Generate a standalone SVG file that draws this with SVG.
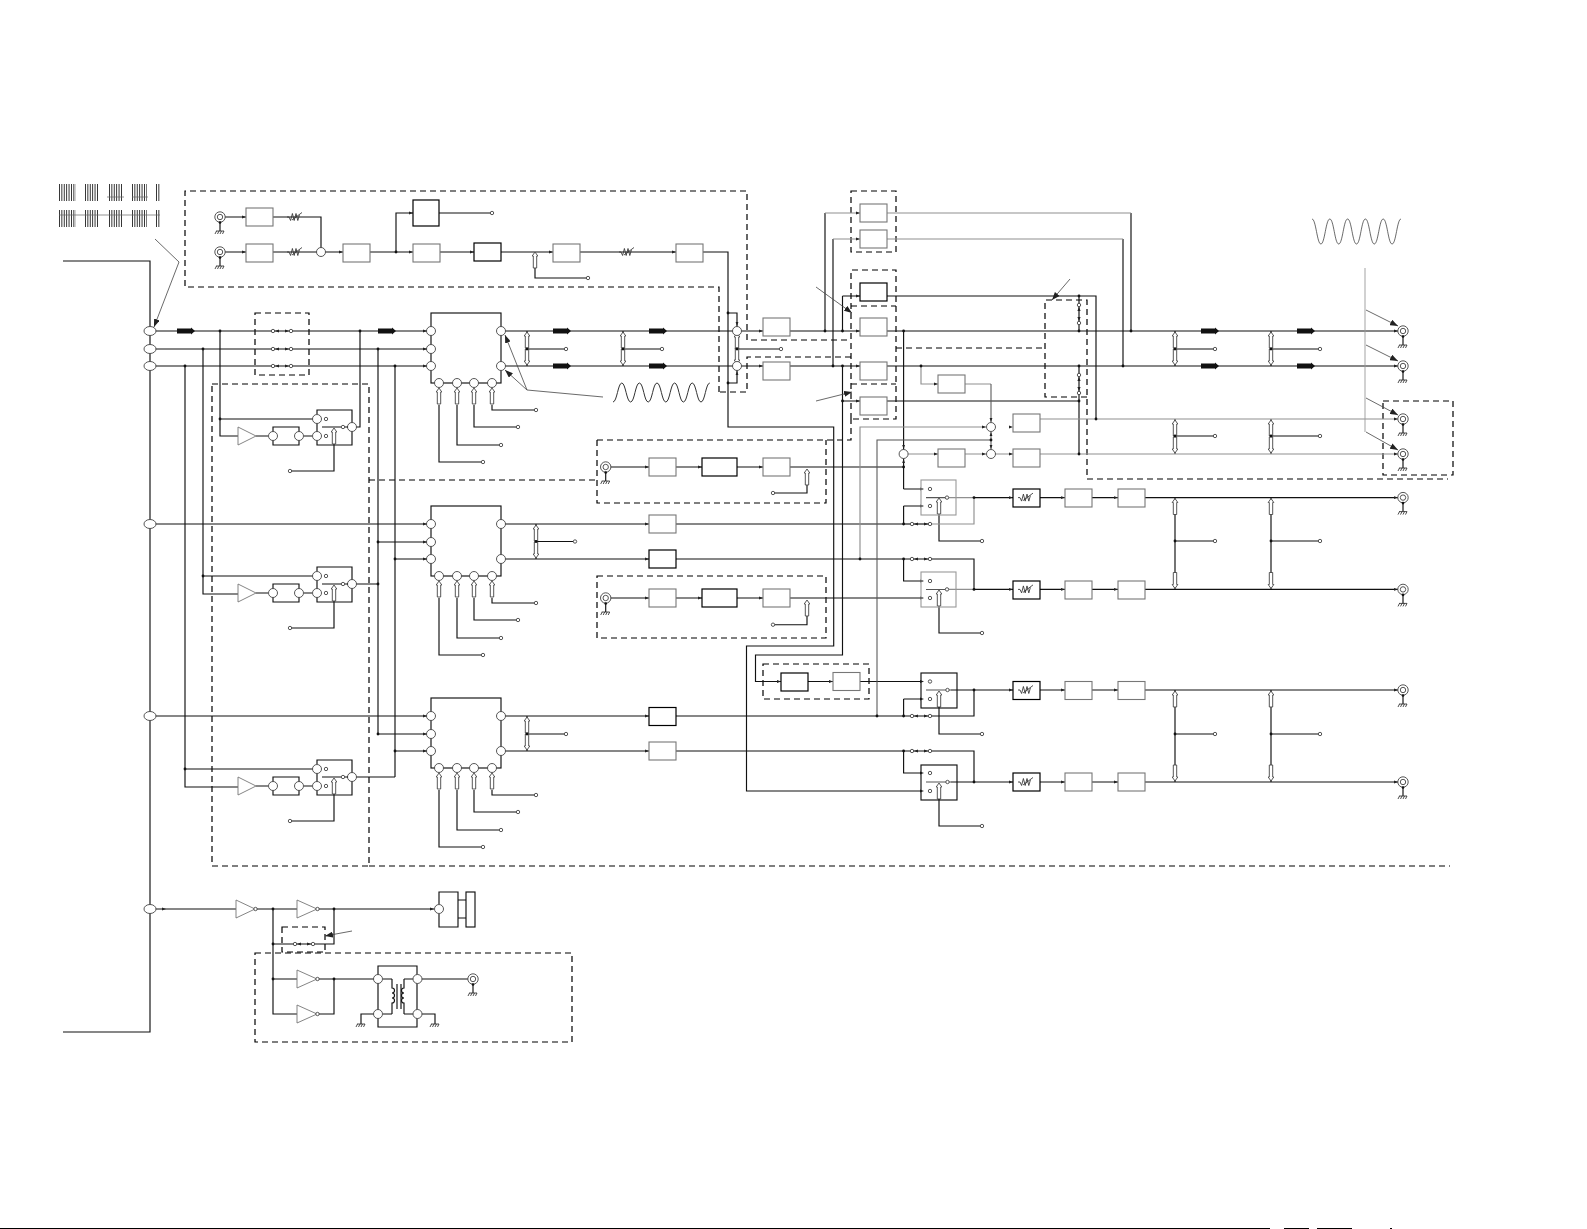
<svg xmlns="http://www.w3.org/2000/svg" width="1587" height="1229" viewBox="0 0 1587 1229">
<style>
.k{fill:none;stroke:#111;stroke-width:1.15}
.g{fill:none;stroke:#909090;stroke-width:1.15}
.m{fill:none;stroke:#555;stroke-width:1.05}
.d{fill:none;stroke:#000;stroke-width:1.2;stroke-dasharray:6 4}
.n{fill:none;stroke:#444;stroke-width:.8}
.gb{fill:#fff;stroke:#777;stroke-width:1.1}
.bb{fill:#fff;stroke:#000;stroke-width:1.2}
.c{fill:#fff;stroke:#444;stroke-width:.9}
.t{fill:#fff;stroke:#444;stroke-width:.9}
.tri{fill:#fff;stroke:#777;stroke-width:.9}
.tick{fill:none;stroke:#222;stroke-width:17;stroke-dasharray:.9 1.5}
</style>
<defs>
<marker id="mh" viewBox="0 0 8 6" refX="8" refY="3" markerWidth="8" markerHeight="6" markerUnits="userSpaceOnUse" orient="auto"><path d="M0,0 L8,3 L0,6 Z" fill="#222"/></marker>
<circle id="c" r="4.5" class="c"/>
<circle id="s" r="1.7" class="c"/>
<circle id="j" r="1.4" fill="#111"/>
<path id="a" d="M-4,-1.4 L0,0 L-4,1.4 Z" fill="#222"/>
<path id="A" d="M0,-2.5 H14 V-3.5 L18,0 L14,3.5 V2.5 H0 Z" fill="#111"/>
<path id="u" d="M0,0 L2.8,4 H1.7 V16 H-1.7 V4 H-2.8 Z" class="t"/>
<path id="v" d="M0,0 L2.8,-4 H1.7 V-16 H-1.7 V-4 H-2.8 Z" class="t"/>
<rect id="gx" width="27" height="18" class="gb"/>
<rect id="bx" width="27" height="18" class="bb"/>
<ellipse id="o" rx="6" ry="4.5" class="c"/>
<g id="gnd"><path d="M-4,0 H4 M-3.5,0 L-5,3 M-1,0 L-2.5,3 M1.5,0 L0,3 M4,0 L2.5,3" fill="none" stroke="#222" stroke-width=".8"/></g>
<g id="coax"><path d="M0,0 V14" class="k"/><circle r="5.2" class="c"/><circle r="2.7" class="c"/><circle cy="5.5" r="1.3" fill="#111"/><use href="#gnd" y="14"/></g>
<path id="res" d="M-8,0 H-6 L-4.4,3.5 L-2.6,-3.5 L-.8,3.5 L1,-3.5 L2.8,3.5 L4.4,-2 M-3,3 L7,-4.5" fill="none" stroke="#333" stroke-width=".85"/>
<g id="blk">
<rect x="431" y="313" width="70" height="70" class="k"/>
<use href="#c" x="431" y="331"/><use href="#c" x="431" y="349"/><use href="#c" x="431" y="366"/>
<use href="#c" x="501" y="331"/><use href="#c" x="501" y="366"/>
<path d="M439,405 V462 H483 M457,405 V445 H501 M474,405 V427 H518 M492,405 V410 H536" class="k"/>
<use href="#c" x="439" y="383"/><use href="#c" x="457" y="383"/><use href="#c" x="474" y="383"/><use href="#c" x="492" y="383"/>
<use href="#u" x="439" y="388"/><use href="#u" x="457" y="388"/><use href="#u" x="474" y="388"/><use href="#u" x="492" y="388"/>
<use href="#s" x="483" y="462"/><use href="#s" x="501" y="445"/><use href="#s" x="518" y="427"/><use href="#s" x="536" y="410"/>
<use href="#a" x="427" y="331"/><use href="#a" x="427" y="349"/><use href="#a" x="427" y="366"/>
</g>
<g id="sw">
<polygon points="238,427 256,436 238,445" class="tri"/>
<path d="M256,436 H268 M304,436 H312 M273,432 V427 H299 V432 M273,440 V445 H299 V440 M317,414 V410 H352 V423 M317,423 V432 M317,440 V445 H352 V431" class="k"/>
<use href="#c" x="273" y="436"/><use href="#c" x="299" y="436"/><use href="#c" x="317" y="419"/><use href="#c" x="317" y="436"/><use href="#c" x="352" y="427"/>
<use href="#s" x="326" y="419"/><use href="#s" x="326" y="436"/><use href="#s" x="343" y="427"/>
<path d="M322,427 H334 M334,444 V471 H290" class="k"/>
<path d="M334,427 H341 M345,427 H348" class="k"/>
<use href="#u" x="334" y="428"/><use href="#s" x="290" y="471"/>
</g>
<g id="dsw"><use href="#s" x="0"/><use href="#s" x="18"/><path d="M2,0 L6,-1.6 V1.6 Z M16,0 L12,-1.6 V1.6 Z" fill="#222"/></g>
</defs>

<g id="marks">
<path d="M59,192.5 H76 M85,192.5 H99 M109,192.5 H123 M132,192.5 H147 M156,192.5 H160 M59,218.5 H76 M85,218.5 H99 M109,218.5 H123 M132,218.5 H147 M156,218.5 H160" class="tick"/>
<path d="M107,197 H124 M132,197 H148 M59,215 H160" fill="none" stroke="#666" stroke-width=".7"/>
</g>

<g id="dashes">
<path d="M719,392 V287 H185 V191 H747 V340 H851" class="d"/>
<path d="M851,357 H747 V392 H719" class="d"/>
<rect x="851" y="191" width="45" height="61" class="d"/>
<path d="M851,419 V270 H896 V419 H851 M851,306 H896 M851,384 H896" class="d"/>
<path d="M597,440 H851 V419" class="d"/>
<path d="M597,440 V503 H826 V440" class="d"/>
<rect x="597" y="576" width="229" height="62" class="d"/>
<rect x="763" y="664" width="106" height="35" class="d"/>
<rect x="255" y="313" width="54" height="62" class="d"/>
<path d="M369,480 H597" class="d"/>
<rect x="212" y="384" width="157" height="482" class="d"/>
<path d="M369,866 H1450" class="d"/>
<path d="M896,348 H1045" class="d"/>
<path d="M1087,397 H1045 V300 H1087 V479 H1448" class="d"/>
<rect x="1383" y="401" width="70" height="74" class="d"/>
<rect x="282" y="927" width="43" height="25" class="d"/>
<rect x="255" y="953" width="317" height="89" class="d"/>
</g>

<g id="connectors">
<path class="k" d="M63,261 H150 V1032 H63 M150,331 H431 M150,349 H431 M150,366 H431 M150,524 H431 M150,716 H431 M150,909 H236
M220,331 V436 H238 M220,419 H317 M203,349 V594 H238 M203,576 H317 M185,366 V787 H238 M185,769 H317
M352,427 H360 V331 M352,584 H378 M378,349 V734 H431 M378,542 H431 M352,777 H395 M395,366 V777 M395,559 H431 M395,751 H431
M501,331 H1403 M501,366 H1403 M501,524 H903 M501,559 H974 V589.4 M501,716 H974 V690 M501,751 H974 V782
M527,331 V366 M527,349 H566 M623,331 V366 M623,349 H662 M737,331 V366 M737,349 H781
M536,524 V559 M536,541.5 H575 M527,716 V751 M527,734 H566
M225,217 H246 M273,217 H321 V252 M225,252 H343 M369,252 H413 M396,252 V213 H413 M439,213 H492 M439,252 H474 M501,252 H553 M579,252 H676
M535,267 V278 H588 M702,252 H728 V427 H833.7 V646 H746.5 V791 H921 M728,313 H737 V331 M728,383 H737 V366
M842.5,296 V331 M842.5,366 V655 H755.5 V681.5 H781 M808,681.5 H833 M860,681.5 H921
M842.5,401 H1079 M842.5,296 H860 M887,296 H1096 V419 M1079,296 V331 M1079,366 V454
M825,331 V213 M833,366 V239 M1131,213 V331 M1123,239 V366
M903.6,331 V489 M610,467 H649 M676,467 H702 M737,467 H763 M790,467 H903.6 M807,484 V493 H773
M610,598 H649 M676,598 H702 M737,598 H763 M790,598 H921 M807,615 V624.7 H773
M903.6,489 H921 M903.6,506 H921 M903.6,506 V524 M903.6,559 V581 H921 M903.6,699 H921 M903.6,699 V716 M903.6,751 V773 H921
M939,510 V541 H982 M939,602 V633 H982 M939,703 V734 H982 M939,795 V826 H982
M974,497.6 H1013 M974,589.4 H1013 M951,690 H1013 M951,782 H1013
M1040,497.6 H1065 M1092,497.6 H1118 M1145,497.6 H1403 M1040,589.4 H1065 M1092,589.4 H1118 M1145,589.4 H1403
M1040,690 H1065 M1092,690 H1118 M1145,690 H1403 M1040,782 H1065 M1092,782 H1118 M1145,782 H1403
M1175,331 V366 M1175,349 H1215 M1271,331 V366 M1271,349 H1320 M1175,419 V454 M1175,436 H1215 M1271,419 V454 M1271,436 H1320
M1175,497.6 V589.4 M1175,541 H1215 M1271,497.6 V589.4 M1271,541 H1320 M1175,690 V782 M1175,734 H1215 M1271,690 V782 M1271,734 H1320
M255,909 H297 M317,909 H434 M273,909 V1014 H297 M273,944 H334 V909 M273,979 H297 M317,979 H374 M317,1014 H334 V979"/>
<path class="g" d="M825,213 H860 M833,239 H860 M886,213 H1131 M886,239 H1123 M903.6,454 H938 M965,454 H1013 M1040,454 H1403 M1040,419 H1403
M921,366 V384 H938 M965,384 H991 M860,559 V427 H986 M930,524 H974 V497.6 M947,497.6 H974 M947,589.4 H974"/>
<path fill="none" stroke="#999" stroke-width=".9" d="M1365,268 V432"/>
<path class="m" d="M991,384 V422 M991,432 V449 M877,716 V440 H991 M926,497.6 H947 M926,589.4 H947 M926,690 H951 M926,782 H951"/>
<path class="k" d="M903.6,524 H930"/>
<g class="n">
<path d="M155,239 L179,262 L154,327" marker-end="url(#mh)"/>
<path d="M603,397 L527,390 L505,335" marker-end="url(#mh)"/>
<path d="M527,390 L505,370" marker-end="url(#mh)"/>
<path d="M816,287 L852,313" marker-end="url(#mh)"/>
<path d="M816,401 L852,392" marker-end="url(#mh)"/>
<path d="M1070,279 L1052,300" marker-end="url(#mh)"/>
<path d="M1366,310 L1398,326" marker-end="url(#mh)"/>
<path d="M1366,345 L1398,361" marker-end="url(#mh)"/>
<path d="M1366,398 L1398,415" marker-end="url(#mh)"/>
<path d="M1366,432 L1398,450" marker-end="url(#mh)"/>
<path d="M352,931 L325,936" marker-end="url(#mh)"/>
</g>
<g id="inline-heads">
<use href="#a" x="156" y="331"/><use href="#a" x="156" y="349"/><use href="#a" x="156" y="366"/><use href="#a" x="156" y="524"/><use href="#a" x="156" y="716"/><use href="#a" x="166" y="909"/>
<use href="#A" x="177" y="331"/><use href="#A" x="378" y="331"/>
<use href="#A" x="553" y="331"/><use href="#A" x="649" y="331"/><use href="#A" x="553" y="366"/><use href="#A" x="649" y="366"/>
<use href="#A" x="1201" y="331"/><use href="#A" x="1297" y="331"/><use href="#A" x="1201" y="366"/><use href="#A" x="1297" y="366"/>
<use href="#a" x="763" y="331"/><use href="#a" x="763" y="366"/><use href="#a" x="860" y="331"/><use href="#a" x="860" y="366"/><use href="#a" x="860" y="401"/><use href="#a" x="860" y="213"/><use href="#a" x="860" y="239"/><use href="#a" x="860" y="296"/>
<use href="#a" x="246" y="217"/><use href="#a" x="246" y="252"/><use href="#a" x="343" y="252"/><use href="#a" x="413" y="213"/><use href="#a" x="413" y="252"/><use href="#a" x="474" y="252"/><use href="#a" x="553" y="252"/><use href="#a" x="676" y="252"/>
<use href="#a" x="649" y="467"/><use href="#a" x="702" y="467"/><use href="#a" x="763" y="467"/><use href="#a" x="649" y="598"/><use href="#a" x="702" y="598"/><use href="#a" x="763" y="598"/>
<use href="#a" x="649" y="524"/><use href="#a" x="649" y="559"/><use href="#a" x="649" y="716"/><use href="#a" x="649" y="751"/>
<use href="#a" x="938" y="384"/><use href="#a" x="938" y="454"/><use href="#a" x="986" y="427"/><use href="#a" x="986" y="454"/><use href="#a" x="1013" y="427"/><use href="#a" x="1013" y="454"/>
<use href="#a" x="924" y="489"/><use href="#a" x="924" y="506"/><use href="#a" x="924" y="581"/><use href="#a" x="924" y="598"/><use href="#a" x="924" y="681.5"/><use href="#a" x="924" y="699"/><use href="#a" x="924" y="773"/><use href="#a" x="924" y="791"/>
<use href="#a" x="1013" y="497.6"/><use href="#a" x="1065" y="497.6"/><use href="#a" x="1118" y="497.6"/><use href="#a" x="1013" y="589.4"/><use href="#a" x="1065" y="589.4"/><use href="#a" x="1118" y="589.4"/>
<use href="#a" x="1013" y="690"/><use href="#a" x="1065" y="690"/><use href="#a" x="1118" y="690"/><use href="#a" x="1013" y="782"/><use href="#a" x="1065" y="782"/><use href="#a" x="1118" y="782"/>
<use href="#a" x="781" y="681.5"/><use href="#a" x="833" y="681.5"/>
<use href="#a" x="1398" y="331"/><use href="#a" x="1398" y="366"/><use href="#a" x="1398" y="419"/><use href="#a" x="1398" y="454"/><use href="#a" x="1398" y="497.6"/><use href="#a" x="1398" y="589.4"/><use href="#a" x="1398" y="690"/><use href="#a" x="1398" y="782"/>
<use href="#a" x="434" y="909"/>
<use href="#a" transform="translate(737,326) rotate(90)"/><use href="#a" transform="translate(737,371) rotate(-90)"/>
<use href="#a" transform="translate(903.6,449) rotate(90)"/><use href="#a" transform="translate(903.6,459) rotate(-90)"/>
<use href="#a" transform="translate(991,422) rotate(90)"/><use href="#a" transform="translate(991,432) rotate(-90)"/><use href="#a" transform="translate(991,449) rotate(90)"/>
</g>
<g id="hollow-arrows">
<use href="#u" x="527" y="332"/><use href="#v" x="527" y="365"/><use href="#u" x="623" y="332"/><use href="#v" x="623" y="365"/><use href="#u" x="737" y="333"/><use href="#v" x="737" y="364"/>
<use href="#u" x="536" y="525"/><use href="#v" x="536" y="558"/><use href="#u" x="527" y="717"/><use href="#v" x="527" y="750"/>
<use href="#u" x="1175" y="332"/><use href="#v" x="1175" y="365"/><use href="#u" x="1271" y="332"/><use href="#v" x="1271" y="365"/>
<use href="#u" x="1175" y="420"/><use href="#v" x="1175" y="453"/><use href="#u" x="1271" y="420"/><use href="#v" x="1271" y="453"/>
<use href="#u" x="1175" y="498.5"/><use href="#v" x="1175" y="588.5"/><use href="#u" x="1271" y="498.5"/><use href="#v" x="1271" y="588.5"/>
<use href="#u" x="1175" y="691"/><use href="#v" x="1175" y="781"/><use href="#u" x="1271" y="691"/><use href="#v" x="1271" y="781"/>
<use href="#u" x="535" y="252"/><use href="#u" x="807" y="469"/><use href="#u" x="807" y="600"/>
<use href="#u" x="939" y="498"/><use href="#u" x="939" y="590"/><use href="#u" x="939" y="691"/><use href="#u" x="939" y="783"/>
</g>
<g id="junctions">
<use href="#j" x="220" y="331"/><use href="#j" x="203" y="349"/><use href="#j" x="185" y="366"/><use href="#j" x="360" y="331"/><use href="#j" x="378" y="349"/><use href="#j" x="395" y="366"/>
<use href="#j" x="220" y="419"/><use href="#j" x="203" y="576"/><use href="#j" x="185" y="769"/><use href="#j" x="378" y="542"/><use href="#j" x="378" y="584"/><use href="#j" x="395" y="559"/><use href="#j" x="378" y="734"/><use href="#j" x="395" y="751"/>
<use href="#j" x="396" y="252"/><use href="#j" x="728" y="313"/><use href="#j" x="728" y="383"/><use href="#j" x="825" y="331"/><use href="#j" x="842.5" y="331"/><use href="#j" x="833" y="366"/><use href="#j" x="842.5" y="366"/><use href="#j" x="842.5" y="401"/>
<use href="#j" x="903.6" y="331"/><use href="#j" x="921" y="366"/><use href="#j" x="1079" y="296"/><use href="#j" x="1079" y="331"/><use href="#j" x="1079" y="366"/><use href="#j" x="1079" y="401"/><use href="#j" x="1079" y="454"/><use href="#j" x="1096" y="419"/><use href="#j" x="1131" y="331"/><use href="#j" x="1123" y="366"/>
<use href="#j" x="903.6" y="467"/><use href="#j" x="903.6" y="524"/><use href="#j" x="903.6" y="559"/><use href="#j" x="903.6" y="716"/><use href="#j" x="903.6" y="751"/><use href="#j" x="860" y="559"/><use href="#j" x="877" y="716"/><use href="#j" x="991" y="440"/>
<use href="#j" x="974" y="497.6"/><use href="#j" x="974" y="589.4"/><use href="#j" x="974" y="690"/><use href="#j" x="974" y="782"/>
<use href="#j" x="527" y="349"/><use href="#j" x="623" y="349"/><use href="#j" x="737" y="349"/><use href="#j" x="536" y="541.5"/><use href="#j" x="527" y="734"/>
<use href="#j" x="1175" y="349"/><use href="#j" x="1271" y="349"/><use href="#j" x="1175" y="436"/><use href="#j" x="1271" y="436"/><use href="#j" x="1175" y="541"/><use href="#j" x="1271" y="541"/><use href="#j" x="1175" y="734"/><use href="#j" x="1271" y="734"/>
<use href="#j" x="273" y="909"/><use href="#j" x="334" y="909"/><use href="#j" x="273" y="944"/><use href="#j" x="273" y="979"/><use href="#j" x="334" y="979"/>
</g>
</g>

<g id="input-ovals"><use href="#o" x="150" y="331"/><use href="#o" x="150" y="349"/><use href="#o" x="150" y="366"/><use href="#o" x="150" y="524"/><use href="#o" x="150" y="716"/><use href="#o" x="150" y="909"/></g>

<g id="bypass-a"><use href="#dsw" x="273" y="331"/><use href="#dsw" x="273" y="349"/><use href="#dsw" x="273" y="366"/></g>

<g id="sw1"><use href="#sw"/></g>
<g id="sw2" transform="translate(0,157)"><use href="#sw"/></g>
<g id="sw3" transform="translate(0,350)"><use href="#sw"/></g>

<g id="block1"><use href="#blk"/></g>
<g id="block2" transform="translate(0,193)"><use href="#blk"/></g>
<g id="block3" transform="translate(0,385)"><use href="#blk"/></g>

<g id="top-chain">
<use href="#coax" x="220" y="217"/><use href="#coax" x="220" y="252"/>
<use href="#gx" x="246" y="208"/><use href="#gx" x="246" y="244"/>
<use href="#res" x="295" y="217"/><use href="#res" x="295" y="252"/><use href="#c" x="321" y="252"/>
<use href="#gx" x="343" y="244"/>
<rect x="413" y="200" width="26" height="26" class="bb"/>
<use href="#s" x="492" y="213"/>
<use href="#gx" x="413" y="244"/><use href="#bx" x="474" y="243"/><use href="#gx" x="553" y="244"/><use href="#s" x="588" y="278"/>
<use href="#res" x="627" y="252"/><use href="#gx" x="676" y="244"/>
</g>

<g id="merge"><use href="#c" x="737" y="331"/><use href="#c" x="737" y="366"/><use href="#s" x="781" y="349"/></g>
<g id="tails">
<use href="#s" x="566" y="349"/><use href="#s" x="662" y="349"/><use href="#s" x="575" y="541.5"/><use href="#s" x="566" y="734"/>
<use href="#s" x="1215" y="349"/><use href="#s" x="1320" y="349"/><use href="#s" x="1215" y="436"/><use href="#s" x="1320" y="436"/>
<use href="#s" x="1215" y="541"/><use href="#s" x="1320" y="541"/><use href="#s" x="1215" y="734"/><use href="#s" x="1320" y="734"/>
</g>

<g id="center-boxes">
<use href="#gx" x="763" y="318"/><use href="#gx" x="763" y="362"/>
<use href="#gx" x="860" y="204"/><use href="#gx" x="860" y="230"/><use href="#bx" x="860" y="283"/>
<use href="#gx" x="860" y="318"/><use href="#gx" x="860" y="362"/><use href="#gx" x="860" y="397"/>
<use href="#gx" x="938" y="375"/><use href="#gx" x="938" y="449"/>
<use href="#gx" x="1013" y="414"/><use href="#gx" x="1013" y="449"/>
<use href="#c" x="903.6" y="454"/><use href="#c" x="991" y="427"/><use href="#c" x="991" y="454"/>
<use href="#dsw" transform="translate(1079,305) rotate(90)"/><use href="#dsw" transform="translate(1079,375) rotate(90)"/>
</g>

<g id="aux1">
<use href="#coax" x="605.7" y="467"/><use href="#gx" x="649" y="458"/><rect x="702" y="458" width="35" height="18" class="bb"/><use href="#gx" x="763" y="458"/><use href="#s" x="773" y="493"/>
</g>
<g id="aux2">
<use href="#coax" x="605.7" y="598"/><use href="#gx" x="649" y="589"/><rect x="702" y="589" width="35" height="18" class="bb"/><use href="#gx" x="763" y="589"/><use href="#s" x="773" y="624.7"/>
</g>
<g id="aux3"><use href="#bx" x="781" y="673"/><use href="#gx" x="833" y="672.5"/></g>

<g id="mid-boxes">
<use href="#gx" x="649" y="515"/><use href="#bx" x="649" y="550"/><use href="#bx" x="649" y="707.5"/><use href="#gx" x="649" y="742"/>
</g>

<g id="mixer1">
<rect x="921" y="480" width="35" height="35" style="fill:none;stroke:#999;stroke-width:1.1"/>
<use href="#s" x="930" y="489"/><use href="#s" x="930" y="506"/><use href="#s" x="947" y="497.6"/><use href="#s" x="982" y="541"/>
<use href="#dsw" x="912" y="524"/>
</g>
<g id="mixer2">
<rect x="921" y="572" width="35" height="35" style="fill:none;stroke:#999;stroke-width:1.1"/>
<use href="#s" x="930" y="581"/><use href="#s" x="930" y="598"/><use href="#s" x="947" y="589.4"/><use href="#s" x="982" y="633"/>
<use href="#dsw" x="912" y="559"/>
</g>
<g id="mixer3">
<rect x="921" y="673" width="36" height="35" class="k"/>
<use href="#s" x="930" y="681.5"/><use href="#s" x="930" y="699"/><use href="#s" x="947.5" y="690"/><use href="#s" x="982" y="734"/>
<use href="#dsw" x="912" y="716"/>
</g>
<g id="mixer4">
<rect x="921" y="765" width="36" height="35" class="k"/>
<use href="#s" x="930" y="773"/><use href="#s" x="930" y="791"/><use href="#s" x="947.5" y="782"/><use href="#s" x="982" y="826"/>
<use href="#dsw" x="912" y="751"/>
</g>

<g id="out-chain">
<use href="#bx" x="1013" y="489"/><use href="#res" x="1026" y="497.6"/><use href="#gx" x="1065" y="489"/><use href="#gx" x="1118" y="489"/>
<use href="#bx" x="1013" y="581"/><use href="#res" x="1026" y="589.4"/><use href="#gx" x="1065" y="581"/><use href="#gx" x="1118" y="581"/>
<use href="#bx" x="1013" y="681.5"/><use href="#res" x="1026" y="690"/><use href="#gx" x="1065" y="681.5"/><use href="#gx" x="1118" y="681.5"/>
<use href="#bx" x="1013" y="773"/><use href="#res" x="1026" y="782"/><use href="#gx" x="1065" y="773"/><use href="#gx" x="1118" y="773"/>
</g>

<g id="outputs">
<use href="#coax" x="1403" y="331"/><use href="#coax" x="1403" y="366"/><use href="#coax" x="1403" y="419"/><use href="#coax" x="1403" y="454"/>
<use href="#coax" x="1403" y="497.6"/><use href="#coax" x="1403" y="589.4"/><use href="#coax" x="1403" y="690"/><use href="#coax" x="1403" y="782"/>
</g>

<g id="waves">
<path fill="none" stroke="#333" stroke-width="1" d="M613,402 c4,0 5,-19 8.8,-19 s4.8,19 8.8,19 s4.8,-19 8.8,-19 s4.8,19 8.8,19 s4.8,-19 8.8,-19 s4.8,19 8.8,19 s4.8,-19 8.8,-19 s4.8,19 8.8,19 s4.8,-19 8.8,-19 s4.8,19 8.8,19 s4.8,-19 8.8,-19"/>
<path class="n" d="M1312,219 c4,0 5,25 8.9,25 s4.9,-25 8.9,-25 s4.9,25 8.9,25 s4.9,-25 8.9,-25 s4.9,25 8.9,25 s4.9,-25 8.9,-25 s4.9,25 8.9,25 s4.9,-25 8.9,-25 s4.9,25 8.9,25 s4.9,-25 8.9,-25"/>
</g>

<g id="power">
<polygon points="236,900 255,909 236,918" class="tri"/><polygon points="297,900 317,909 297,918" class="tri"/><use href="#s" x="255.5" y="909"/><use href="#s" x="317.5" y="909"/>
<path d="M439,904 V892 H458 V927 H439 V914 M458,900 H466 M458,918 H466" class="k"/><rect x="466" y="892" width="9" height="35" class="k"/>
<use href="#c" x="439" y="909"/>
<use href="#dsw" x="295" y="944"/>
<polygon points="297,970 317,979 297,988" class="tri"/><polygon points="297,1005 317,1014 297,1023" class="tri"/><use href="#s" x="317.5" y="979"/><use href="#s" x="317.5" y="1014"/>
</g>
<g id="transformer">
<path d="M378,979 V966 H417 V979 M378,979 V1014 M417,979 V1014 M378,1014 V1027 H417 V1014 M383,979 H392 M392,1014 H383 M404,979 H413 M404,1014 H413 M422,979 H473 M361,1024 V1014 H374 M435,1024 V1014 H422 M397,984 V1009 M401,984 V1009" class="k"/>
<path d="M392,979 V988 a2.5,2.5 0 0 1 0,5 a2.5,2.5 0 0 1 0,5 a2.5,2.5 0 0 1 0,5 V1014 M404,979 V988 a2.5,2.5 0 0 0 0,5 a2.5,2.5 0 0 0 0,5 a2.5,2.5 0 0 0 0,5 V1014" class="k"/>
<use href="#c" x="378" y="979"/><use href="#c" x="378" y="1014"/><use href="#c" x="417.5" y="979"/><use href="#c" x="417.5" y="1014"/>
<use href="#gnd" x="361" y="1024"/><use href="#gnd" x="435" y="1024"/>
<use href="#coax" x="473" y="979"/>
</g>

<g id="footer"><path d="M0,1228.5 H1270 M1284,1228.5 H1309 M1317,1228.5 H1352 M1390,1228.5 H1392" fill="none" stroke="#000" stroke-width="1"/></g>
</svg>
